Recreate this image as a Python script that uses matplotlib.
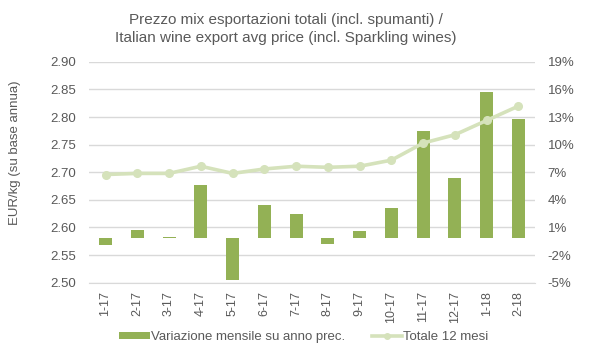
import matplotlib
matplotlib.use("Agg")
import matplotlib.pyplot as plt
from matplotlib.ticker import FixedLocator, FuncFormatter
from matplotlib.lines import Line2D
from matplotlib.patches import Patch

categories = ["1-17", "2-17", "3-17", "4-17", "5-17", "6-17", "7-17",
              "8-17", "9-17", "10-17", "11-17", "12-17", "1-18", "2-18"]
monthly_change = [-0.73, 0.87, 0.15, 5.8, -4.5, 3.6, 2.6,
                  -0.6, 0.76, 3.3, 11.7, 6.5, 15.9, 12.9]
total_12m = [2.696, 2.698, 2.698, 2.711, 2.698, 2.706, 2.711,
             2.709, 2.711, 2.722, 2.753, 2.768, 2.794, 2.820]
left_ticks = [2.50, 2.55, 2.60, 2.65, 2.70, 2.75, 2.80, 2.85, 2.90]
right_ticks = [-4.84, -1.84, 1.16, 4.16, 7.16, 10.16, 13.16, 16.16, 19.16]

title = "Prezzo mix esportazioni totali (incl. spumanti) /\nItalian wine export avg price (incl. Sparkling wines)"
ylabel = "EUR/kg (su base annua)"
bar_label = "Variazione mensile su anno prec."
line_label = "Totale 12 mesi"

bar_color = "#93b155"
line_color = "#d5e2bb"
text_color = "#595959"
grid_color = "#d9d9d9"

plt.rcParams['font.family'] = ['Liberation Sans', 'DejaVu Sans']

W, H = 599, 356
fig = plt.figure(figsize=(W / 100, H / 100), dpi=100)
ax_l, ax_r, ax_t, ax_b = 89, 535, 61.9, 282.7
ax = fig.add_axes([ax_l / W, 1 - ax_b / H, (ax_r - ax_l) / W, (ax_b - ax_t) / H])
ax2 = ax.twinx()

x = list(range(len(categories)))

# bars on right axis (percent), with the gridlines behind them
ax2.bar(x, monthly_change, width=0.41, color=bar_color, zorder=2)
ax2.set_ylim(right_ticks[0], right_ticks[-1])
ax2.yaxis.set_major_locator(FixedLocator(right_ticks))
ax2.yaxis.set_major_formatter(FuncFormatter(lambda v, p: f"{round(v):d}%"))
ax2.grid(axis='y', color=grid_color, linewidth=1, zorder=0)
ax2.set_axisbelow(True)

# line on left axis, drawn above the bars
ax.set_zorder(ax2.get_zorder() + 1)
ax.patch.set_visible(False)
ax.plot(x, total_12m, color=line_color, linewidth=2.6, marker='o',
        markersize=5.5, markerfacecolor=line_color, markeredgecolor=line_color, zorder=3)
ax.set_ylim(2.50, 2.90)
ax.set_yticks(left_ticks)
ax.yaxis.set_major_formatter(FuncFormatter(lambda v, p: f"{v:.2f}"))

ax.set_xlim(-0.52, len(categories) - 0.48)
ax.set_xticks(x)
ax.set_xticklabels(categories, rotation=90, fontsize=9, color=text_color)

for a in (ax, ax2):
    for s in a.spines.values():
        s.set_visible(False)
ax2.spines['bottom'].set_visible(True)
ax2.spines['bottom'].set_color(grid_color)

ax.tick_params(axis='y', length=0, labelsize=9.5, labelcolor=text_color, pad=9)
ax2.tick_params(axis='y', length=0, labelsize=9.5, labelcolor=text_color, pad=9)
ax.tick_params(axis='x', length=0, pad=6)

fig.text(15 / W, 1 - 153 / H, ylabel, rotation=90, ha='center', va='center',
         fontsize=9.5, color=text_color)

fig.text(286 / W, 1 - 29 / H, title, ha='center', va='center', fontsize=11,
         color=text_color, linespacing=1.35)

handles = [Patch(facecolor=bar_color, edgecolor='none'),
           Line2D([0], [0], color=line_color, linewidth=2.6, marker='o', markersize=4)]
fig.legend(handles, [bar_label, line_label], loc='center',
           bbox_to_anchor=(304 / W, 1 - 337 / H), ncol=2, frameon=False,
           fontsize=9.5, handlelength=2.3, handleheight=0.5, handletextpad=0.1,
           columnspacing=2.0, labelcolor=text_color)

fig.savefig("out.png", dpi=100)
